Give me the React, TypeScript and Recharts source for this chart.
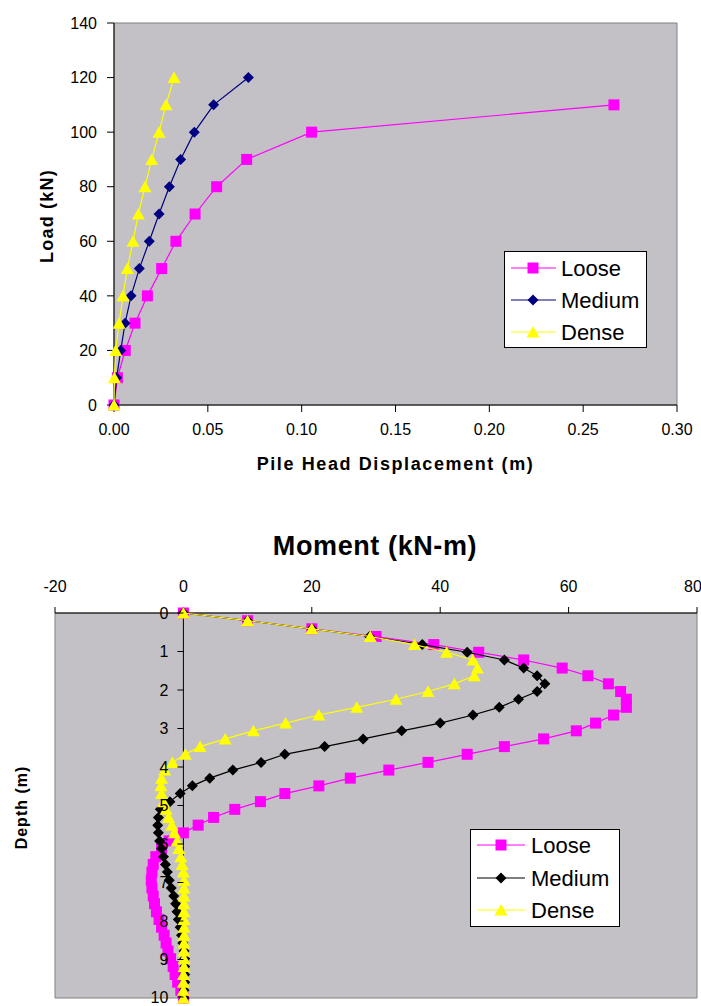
import { Legend, ReferenceArea, ReferenceLine, Scatter, ScatterChart, XAxis, YAxis } from "recharts";

const FONT = "'Liberation Sans', Arial, sans-serif";
const PLOT_BG = "#c3c1c5";
const BORDER = "#808080";

// load vs pile head displacement
const loads = [0, 10, 20, 30, 40, 50, 60, 70, 80, 90, 100, 110, 120];
const looseDisp = [0, 0.0018, 0.006, 0.0112, 0.0178, 0.0254, 0.033, 0.0432, 0.0547, 0.0707, 0.1053, 0.2664];
const mediumDisp = [0, 0.0014, 0.0036, 0.0059, 0.0091, 0.0135, 0.0188, 0.024, 0.0295, 0.0355, 0.0428, 0.0531, 0.0716];
const denseDisp = [0, 0.0002, 0.0009, 0.0027, 0.0048, 0.0071, 0.0101, 0.013, 0.0165, 0.0201, 0.024, 0.0277, 0.032];
const dispTicks = [0, 0.05, 0.1, 0.15, 0.2, 0.25, 0.3];
const loadTicks = [0, 20, 40, 60, 80, 100, 120, 140];

// bending moment vs depth
const depths = [
  0, 0.2, 0.41, 0.61, 0.82, 1.02, 1.22, 1.43, 1.63, 1.84, 2.04, 2.24, 2.45, 2.65, 2.86, 3.06, 3.27, 3.47, 3.67, 3.88,
  4.08, 4.29, 4.49, 4.69, 4.9, 5.1, 5.31, 5.51, 5.71, 5.92, 6.12, 6.33, 6.53, 6.73, 6.94, 7.14, 7.35, 7.55, 7.76, 7.96,
  8.16, 8.37, 8.57, 8.78, 8.98, 9.18, 9.39, 9.59, 9.8, 10,
];
const looseMoment = [
  0, 10, 20, 30, 39, 46, 53, 59, 63, 66.2, 68.1, 69, 69, 67, 64.2, 61.2, 56.1, 50, 44.2, 38.1,
  32, 26, 21.1, 15.8, 12, 8, 4.7, 2.3, 0, -2.2, -3.4, -4.3, -4.7, -4.9, -5, -4.9, -4.7, -4.5, -4.2, -3.8,
  -3.4, -3, -2.7, -2.4, -2, -1.6, -1.3, -0.9, -0.4, 0,
];
const mediumMoment = [
  0, 10, 20, 29, 37.2, 44.2, 50, 53, 55.1, 56.3, 55.1, 52.2, 49.2, 45.1, 40, 34, 28, 22, 15.8, 12.1,
  7.7, 4.1, 1.4, -0.5, -2.1, -3.6, -3.9, -4, -3.9, -3.7, -3.4, -3.1, -2.8, -2.5, -2.2, -1.9, -1.5, -1.2, -1, -0.8,
  -0.5, -0.3, -0.1, 0.1, 0.2, 0.2, 0.2, 0.2, 0.1, 0.1,
];
const denseMoment = [
  0, 10, 20, 29.1, 36, 41, 45.1, 45.8, 45.3, 42.2, 38.1, 33.1, 27, 21.1, 15.9, 10.9, 6.5, 2.6, 0.3, -1.7,
  -2.9, -3.4, -3.5, -3.4, -3.1, -2.7, -2.3, -1.8, -1.4, -1, -0.7, -0.4, -0.2, 0, 0.1, 0.1, 0.1, 0.1, 0.1, 0.1,
  0.1, 0.1, 0.1, 0.1, 0.1, 0.1, 0, 0, 0, 0,
];
const momentTicks = [-20, 0, 20, 40, 60, 80];
const depthTicks = [0, 1, 2, 3, 4, 5, 6, 7, 8, 9, 10];

const MOMENT_MIN = -20;
const MOMENT_MAX = 80;
const BOTTOM_W = 701;
const BOTTOM_MARGIN = { top: 0, right: 4, bottom: 8, left: 0 };
const DEPTH_AXIS_W = 55;
const BOTTOM_PLOT_W = BOTTOM_W - BOTTOM_MARGIN.left - BOTTOM_MARGIN.right - DEPTH_AXIS_W;
const ZERO_SHIFT = (BOTTOM_PLOT_W * (0 - MOMENT_MIN)) / (MOMENT_MAX - MOMENT_MIN);

type Kind = "square" | "diamond" | "triangle";
type Series = { name: string; color: string; kind: Kind };

const topSeries: Series[] = [
  { name: "Loose", color: "#ff00ff", kind: "square" },
  { name: "Medium", color: "#000080", kind: "diamond" },
  { name: "Dense", color: "#ffff00", kind: "triangle" },
];
const bottomSeries: Series[] = [
  { name: "Loose", color: "#ff00ff", kind: "square" },
  { name: "Medium", color: "#000000", kind: "diamond" },
  { name: "Dense", color: "#ffff00", kind: "triangle" },
];

const pairs = (xs: number[], ys: number[]) => xs.map((x, i) => ({ x, y: ys[i] }));

function Marker({ kind, cx, cy, color }: { kind: Kind; cx: number; cy: number; color: string }) {
  if (kind === "square") return <rect x={cx - 5.5} y={cy - 5.5} width={11} height={11} fill={color} />;
  if (kind === "diamond")
    return <polygon points={`${cx},${cy - 5.5} ${cx + 5.5},${cy} ${cx},${cy + 5.5} ${cx - 5.5},${cy}`} fill={color} />;
  return <polygon points={`${cx},${cy - 6} ${cx + 6.5},${cy + 5.5} ${cx - 6.5},${cy + 5.5}`} fill={color} />;
}

const shapeFor = (s: Series) => (p: any) => <Marker kind={s.kind} cx={p.cx} cy={p.cy} color={s.color} />;

type LegendLayout = { w: number; h: number; rows: number[]; lineX1: number; lineX2: number; markX: number; textX: number };

function LegendBox({ series, box }: { series: Series[]; box: LegendLayout }) {
  return (
    <div style={{ width: box.w, height: box.h, border: "1px solid #000", background: "#fff", boxSizing: "border-box" }}>
      <svg width={box.w - 2} height={box.h - 2} style={{ display: "block" }}>
        {series.map((s, i) => (
          <g key={s.name}>
            <line x1={box.lineX1} x2={box.lineX2} y1={box.rows[i]} y2={box.rows[i]} stroke={s.color} strokeWidth={1.2} />
            <Marker kind={s.kind} cx={box.markX} cy={box.rows[i]} color={s.color} />
            <text x={box.textX} y={box.rows[i]} dominantBaseline="central" fontSize={22} fill="#000" fontFamily={FONT}>
              {s.name}
            </text>
          </g>
        ))}
      </svg>
    </div>
  );
}

const topLegend: LegendLayout = { w: 143, h: 97, rows: [16, 48, 80], lineX1: 6, lineX2: 51, markX: 28, textX: 56 };
const bottomLegend: LegendLayout = { w: 150, h: 98, rows: [15, 48, 80], lineX1: 6, lineX2: 54, markX: 30, textX: 60 };

function DepthTick(props: any) {
  const { x, y, payload } = props;
  const zx = x + ZERO_SHIFT;
  return (
    <g>
      <line x1={zx - 6} x2={zx} y1={y} y2={y} stroke="#000" />
      <text x={zx - 15} y={y} textAnchor="end" dominantBaseline="central" fontSize={16} fill="#000">
        {payload.value}
      </text>
    </g>
  );
}

export default function App() {
  const tickStyle = { fill: "#000", fontSize: 16 };
  return (
    <div style={{ position: "absolute", left: 0, top: 0, width: 701, height: 1006, background: "#fff", fontFamily: FONT }}>
      <div style={{ position: "absolute", left: 0, top: 0 }}>
        <ScatterChart width={701} height={490} margin={{ top: 23, right: 24, bottom: 0, left: 0 }}>
          <ReferenceArea x1={0} x2={0.3} y1={0} y2={140} fill={PLOT_BG} fillOpacity={1} stroke={BORDER} />
          <XAxis
            type="number"
            dataKey="x"
            domain={[0, 0.3]}
            ticks={dispTicks}
            tickFormatter={(v: number) => v.toFixed(2)}
            height={85}
            stroke="#000"
            tick={tickStyle}
            tickSize={7}
            tickMargin={12}
            label={(p: any) => (
              <text
                x={p.viewBox.x + p.viewBox.width / 2}
                y={p.viewBox.y + 65}
                textAnchor="middle"
                fontSize={18}
                fontWeight="bold"
                letterSpacing={1.6}
                fill="#000"
              >
                Pile Head Displacement (m)
              </text>
            )}
          />
          <YAxis
            type="number"
            dataKey="y"
            domain={[0, 140]}
            ticks={loadTicks}
            width={114}
            stroke="#000"
            tick={tickStyle}
            tickSize={7}
            tickMargin={10}
            label={(p: any) => {
              const cx = p.viewBox.x + 47;
              const cy = p.viewBox.y + p.viewBox.height / 2 + 2;
              return (
                <text
                  x={cx}
                  y={cy}
                  transform={`rotate(-90 ${cx} ${cy})`}
                  textAnchor="middle"
                  dominantBaseline="central"
                  fontSize={18}
                  fontWeight="bold"
                  letterSpacing={1.2}
                  fill="#000"
                >
                  Load (kN)
                </text>
              );
            }}
          />
          <Scatter name="Loose" data={pairs(looseDisp, loads)} fill={topSeries[0].color} line={{ stroke: topSeries[0].color, strokeWidth: 1.2 }} shape={shapeFor(topSeries[0])} isAnimationActive={false} />
          <Scatter name="Medium" data={pairs(mediumDisp, loads)} fill={topSeries[1].color} line={{ stroke: topSeries[1].color, strokeWidth: 1.2 }} shape={shapeFor(topSeries[1])} isAnimationActive={false} />
          <Scatter name="Dense" data={pairs(denseDisp, loads)} fill={topSeries[2].color} line={{ stroke: topSeries[2].color, strokeWidth: 1.2 }} shape={shapeFor(topSeries[2])} isAnimationActive={false} />
          <Legend
            layout="vertical"
            align="center"
            verticalAlign="middle"
            wrapperStyle={{ left: 504, top: 251, width: topLegend.w, height: topLegend.h }}
            content={() => <LegendBox series={topSeries} box={topLegend} />}
          />
        </ScatterChart>
      </div>

      <div style={{ position: "absolute", left: 0, top: 500 }}>
        <ScatterChart width={BOTTOM_W} height={506} margin={BOTTOM_MARGIN}>
          <ReferenceArea x1={MOMENT_MIN} x2={MOMENT_MAX} y1={0} y2={10} fill={PLOT_BG} fillOpacity={1} stroke={BORDER} />
          <XAxis
            type="number"
            dataKey="x"
            orientation="top"
            domain={[MOMENT_MIN, MOMENT_MAX]}
            ticks={momentTicks}
            height={113}
            stroke="#000"
            tick={tickStyle}
            tickSize={6}
            tickMargin={15}
            label={(p: any) => (
              <text
                x={p.viewBox.x + p.viewBox.width / 2 - 1}
                y={p.viewBox.y + 55}
                textAnchor="middle"
                fontSize={27}
                fontWeight="bold"
                letterSpacing={0.6}
                fill="#000"
              >
                Moment (kN-m)
              </text>
            )}
          />
          <YAxis
            type="number"
            dataKey="y"
            domain={[0, 10]}
            reversed
            ticks={depthTicks}
            width={DEPTH_AXIS_W}
            axisLine={false}
            tickLine={false}
            tickSize={0}
            tickMargin={0}
            tick={<DepthTick />}
            label={(p: any) => {
              const cx = p.viewBox.x + 21;
              const cy = p.viewBox.y + p.viewBox.height / 2 + 2;
              return (
                <text
                  x={cx}
                  y={cy}
                  transform={`rotate(-90 ${cx} ${cy})`}
                  textAnchor="middle"
                  dominantBaseline="central"
                  fontSize={16}
                  fontWeight="bold"
                  letterSpacing={1}
                  fill="#000"
                >
                  Depth (m)
                </text>
              );
            }}
          />
          <ReferenceLine x={0} stroke="#000" />
          <Scatter name="Loose" data={pairs(looseMoment, depths)} fill={bottomSeries[0].color} line={{ stroke: bottomSeries[0].color, strokeWidth: 1.2 }} shape={shapeFor(bottomSeries[0])} isAnimationActive={false} />
          <Scatter name="Medium" data={pairs(mediumMoment, depths)} fill={bottomSeries[1].color} line={{ stroke: bottomSeries[1].color, strokeWidth: 1.2 }} shape={shapeFor(bottomSeries[1])} isAnimationActive={false} />
          <Scatter name="Dense" data={pairs(denseMoment, depths)} fill={bottomSeries[2].color} line={{ stroke: bottomSeries[2].color, strokeWidth: 1.2 }} shape={shapeFor(bottomSeries[2])} isAnimationActive={false} />
          <Legend
            layout="vertical"
            align="center"
            verticalAlign="middle"
            wrapperStyle={{ left: 470, top: 329, width: bottomLegend.w, height: bottomLegend.h }}
            content={() => <LegendBox series={bottomSeries} box={bottomLegend} />}
          />
        </ScatterChart>
      </div>
    </div>
  );
}
